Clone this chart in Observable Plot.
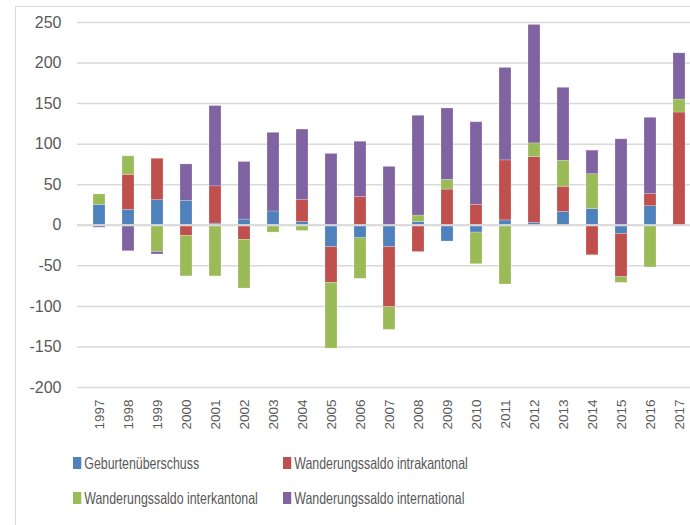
<!DOCTYPE html>
<html><head><meta charset="utf-8">
<script src="https://cdn.jsdelivr.net/npm/d3@7"></script>
<script src="https://cdn.jsdelivr.net/npm/@observablehq/plot@0.6"></script>
<style>
html,body{margin:0;padding:0;width:690px;height:525px;overflow:hidden;background:#fff}
#frame{position:absolute;left:15px;top:6px;width:800px;height:600px;border-left:1.5px solid #d9d9d9;border-top:1.5px solid #d9d9d9;box-sizing:border-box}
#chart{position:absolute;left:0;top:0;width:720px}
#chart svg{max-width:none !important}
.item{position:absolute;display:flex;align-items:center;height:20px;font-family:"Liberation Sans",Arial,sans-serif;font-size:16.5px;color:#595959;white-space:nowrap;transform:scaleX(0.75);transform-origin:0 50%}
.sw{display:inline-block;width:11px;height:12px;margin-right:4px}
</style></head>
<body>
<div id="frame"></div>
<div id="chart"></div>
<div id="legend"></div>
<script>
const years = ["1997","1998","1999","2000","2001","2002","2003","2004","2005","2006","2007","2008","2009","2010","2011","2012","2013","2014","2015","2016","2017"];
const seriesNames = ["Geburtenüberschuss","Wanderungssaldo intrakantonal","Wanderungssaldo interkantonal","Wanderungssaldo international"];
const colors = ["#4f81bd","#c0504d","#9bbb59","#8064a2"];
const geburten      = [25, 19, 31, 30, 2, 7, 17, 4, -27, -16, -27, 4, -20, -9, 6, 3, 16.5, 20, -11, 23.5, 0];
const intrakantonal = [0, 43, 51, -13, 46, -18, 0, 27, -44, 35, -74, -33, 44, 25, 74, 81, 31, -37, -53, 15, 139];
const interkantonal = [13, 23, -33, -50, -63, -60, -9, -7, -81, -50, -28, 8, 12, -39, -73, 17, 32, 43, -7, -52, 16];
const international = [-3, -32, -3, 45, 99, 71, 97, 87, 88, 68, 72, 123, 88, 102, 114, 146, 90, 29, 106, 94, 57];
const yTicks = [-200,-150,-100,-50,0,50,100,150,200,250];

const seriesValues = [geburten, intrakantonal, interkantonal, international];
const data = [];
years.forEach((yr, i) => seriesNames.forEach((s, k) => data.push({year: yr, series: s, value: seriesValues[k][i]})));

const font = '"Liberation Sans",Arial,sans-serif';
const chart = Plot.plot({
  width: 720, height: 440,
  marginLeft: 77, marginRight: 19, marginTop: 22, marginBottom: 53,
  style: {fontFamily: font, fontSize: "15px", color: "#595959", background: "transparent", overflow: "visible", maxWidth: "none"},
  x: {domain: years, paddingInner: 0.6, paddingOuter: 0.3, label: null},
  y: {domain: [-200, 250], label: null},
  color: {domain: seriesNames, range: colors},
  marks: [
    Plot.gridY(yTicks, {stroke: "#d9d9d9", strokeOpacity: 1, strokeWidth: 1.5}),
    Plot.barY(data, {x: "year", y: "value", fill: "series", order: seriesNames, stroke: "#fff", strokeOpacity: 0.35, strokeWidth: 0.6}),
    Plot.ruleY([0], {stroke: "#d9d9d9", strokeWidth: 2}),
    Plot.axisY(yTicks, {tickSize: 0, tickPadding: 16, fontSize: 16, label: null, tickFormat: d => String(d)}),
    Plot.axisX({tickSize: 0, tickPadding: 12, tickRotate: -90, fontSize: 13.5, label: null})
  ]
});
document.getElementById("chart").appendChild(chart);

const legend = document.getElementById("legend");
const pos = [[73, 453], [283, 453], [73, 488], [283, 488]];
seriesNames.forEach((s, k) => {
  const d = document.createElement("div");
  d.className = "item";
  d.style.left = pos[k][0] + "px";
  d.style.top = pos[k][1] + "px";
  const sw = document.createElement("span");
  sw.className = "sw"; sw.style.background = colors[k];
  d.appendChild(sw);
  d.appendChild(document.createTextNode(s));
  legend.appendChild(d);
});
</script>
</body></html>
